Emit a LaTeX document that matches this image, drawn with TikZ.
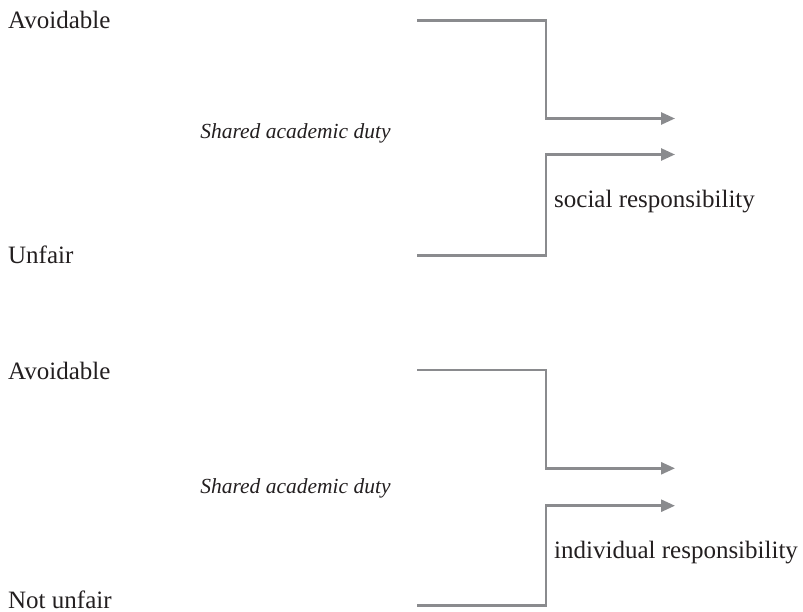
\documentclass[tikz,border=0pt]{standalone}
\usepackage{fontspec}
\setmainfont{Liberation Serif}
\usetikzlibrary{arrows.meta}
\definecolor{linegray}{HTML}{8A8B8E}
\definecolor{textblack}{HTML}{231F20}
\begin{document}
\begin{tikzpicture}[x=1pt,y=-1pt,
  conn/.style={draw=linegray, line width=2.6pt, -{Triangle[length=14pt,width=12pt]}},
  lbl/.style={inner sep=0pt, anchor=base west, text=textblack, font=\fontsize{25}{30}\selectfont},
  duty/.style={inner sep=0pt, anchor=base, text=textblack, font=\fontsize{21.5}{26}\selectfont\itshape}]
\useasboundingbox (0,0) rectangle (803,612);

% top group
\node[lbl] (av1) at (8,29) {Avoidable};
\node[lbl] (un1) at (8,264) {Unfair};
\node[duty] (sd1) at (295.5,139) {Shared academic duty};
\node[lbl] (sr) at (554,208) {social responsibility};
\coordinate (s1a) at (417,20.5);
\coordinate (k1a) at (546,118.5);
\coordinate (t1a) at (675,118.5);
\coordinate (s1b) at (417,255.5);
\coordinate (k1b) at (546,154.5);
\coordinate (t1b) at (675,154.5);
\draw[conn] (s1a) -| (k1a) -- (t1a);
\draw[conn] (s1b) -| (k1b) -- (t1b);

% bottom group
\node[lbl] (av2) at (8,379) {Avoidable};
\node[lbl] (un2) at (8,608) {Not unfair};
\node[duty] (sd2) at (295.5,493) {Shared academic duty};
\node[lbl] (ir) at (554,558) {individual responsibility};
\coordinate (s2a) at (417,370);
\coordinate (k2a) at (546,468.3);
\coordinate (t2a) at (675,468.3);
\coordinate (s2b) at (417,605.5);
\coordinate (k2b) at (546,505.7);
\coordinate (t2b) at (675,505.7);
\draw[conn] (s2a) -| (k2a) -- (t2a);
\draw[conn] (s2b) -| (k2b) -- (t2b);
\end{tikzpicture}
\end{document}
